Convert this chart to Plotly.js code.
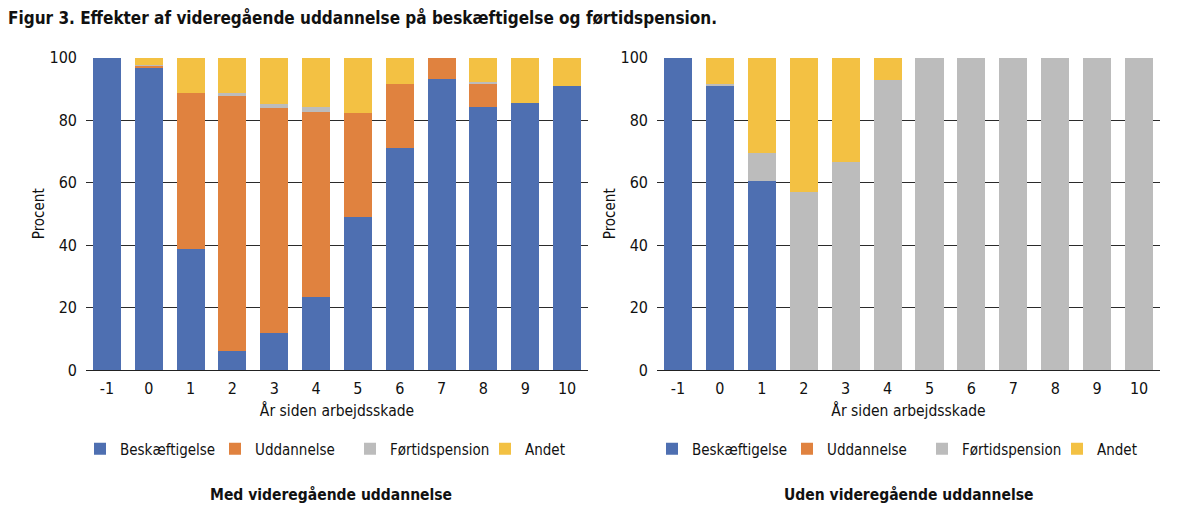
<!DOCTYPE html>
<html>
<head>
<meta charset="utf-8">
<script src="https://cdn.plot.ly/plotly-3.0.1.min.js"></script>
<style>
  html, body { margin: 0; padding: 0; background: #fff; }
  #chart { width: 1200px; height: 522px; }
</style>
</head>
<body>
<div id="chart"></div>
<script>
var years = ['-1', '0', '1', '2', '3', '4', '5', '6', '7', '8', '9', '10'];
var seriesNames = ['Beskæftigelse', 'Uddannelse', 'Førtidspension', 'Andet'];
var colours = ['#4e6fb1', '#e0823f', '#bcbcbc', '#f3c143'];

// med videregående uddannelse
var medBeskaeft = [100, 96.5, 38.7, 6.1, 12.0, 23.3, 48.9, 71.1, 93.2, 84.1, 85.5, 90.8];
var medUdd      = [0, 0.9, 50.1, 81.5, 71.9, 59.3, 33.2, 20.3, 6.8, 7.3, 0, 0];
var medFoert    = [0, 0.2, 0, 1.2, 1.1, 1.6, 0, 0, 0, 0.9, 0, 0];
var medAndet    = [0, 2.4, 11.2, 11.2, 15.0, 15.8, 17.9, 8.6, 0, 7.7, 14.5, 9.2];

// uden videregående uddannelse
var udenBeskaeft = [100, 90.8, 60.4, 0, 0, 0, 0, 0, 0, 0, 0, 0];
var udenUdd      = [0, 0, 0, 0, 0, 0, 0, 0, 0, 0, 0, 0];
var udenFoert    = [0, 0.6, 8.9, 56.9, 66.5, 92.7, 100, 100, 100, 100, 100, 100];
var udenAndet    = [0, 8.6, 30.7, 43.1, 33.5, 7.3, 0, 0, 0, 0, 0, 0];

var font = 'DejaVu Sans Condensed, sans-serif';

function makeTraces(values, xaxis, yaxis, legend) {
  return values.map(function(v, i) {
    return {
      x: years,
      y: v,
      name: seriesNames[i],
      type: 'bar',
      marker: {color: colours[i], line: {width: 0}},
      xaxis: xaxis,
      yaxis: yaxis,
      legend: legend,
      hoverinfo: 'skip'
    };
  });
}

var data = makeTraces([medBeskaeft, medUdd, medFoert, medAndet], 'x', 'y', 'legend')
  .concat(makeTraces([udenBeskaeft, udenUdd, udenFoert, udenAndet], 'x2', 'y2', 'legend2'));

var xax = {
  type: 'category',
  showgrid: false,
  zeroline: false,
  showline: true,
  linecolor: '#222',
  linewidth: 1,
  ticks: '',
  ticklabelstandoff: 4,
  tickfont: {size: 16, color: '#111', family: font},
  title: {text: 'År siden arbejdsskade', font: {size: 15.5, color: '#111', family: font}, standoff: 7}
};
var yax = {
  range: [0, 100],
  tickvals: [0, 20, 40, 60, 80, 100],
  showgrid: true,
  gridcolor: '#2b2b2b',
  gridwidth: 1,
  zeroline: false,
  showline: false,
  ticks: '',
  ticklabelstandoff: 8,
  tickfont: {size: 16, color: '#111', family: font},
  title: {text: 'Procent', font: {size: 15, color: '#111', family: font}, standoff: 1}
};

var legendBase = {
  orientation: 'h',
  traceorder: 'normal',
  xanchor: 'left',
  yanchor: 'middle',
  y: 1 - 449 / 522,
  itemwidth: 30,
  entrywidth: 90,
  entrywidthmode: 'pixels',
  font: {size: 15, color: '#111', family: font},
  bgcolor: 'rgba(0,0,0,0)'
};

var layout = {
  width: 1200,
  height: 522,
  margin: {l: 0, r: 0, t: 0, b: 0, autoexpand: false},
  paper_bgcolor: '#fff',
  plot_bgcolor: '#fff',
  barmode: 'stack',
  bargap: 0.33,
  font: {family: font, color: '#111'},
  xaxis: Object.assign({}, xax, {domain: [86 / 1200, 588 / 1200], anchor: 'y'}),
  yaxis: Object.assign({}, yax, {domain: [1 - 370 / 522, 1 - 57.5 / 522], anchor: 'x'}),
  xaxis2: Object.assign({}, xax, {domain: [657 / 1200, 1160 / 1200], anchor: 'y2'}),
  yaxis2: Object.assign({}, yax, {domain: [1 - 370 / 522, 1 - 57.5 / 522], anchor: 'x2'}),
  legend: Object.assign({}, legendBase, {x: 80 / 1200}),
  legend2: Object.assign({}, legendBase, {x: 652 / 1200}),
  annotations: [
    {text: '<b>Figur 3. Effekter af videregående uddannelse på beskæftigelse og førtidspension.</b>',
     xref: 'paper', yref: 'paper', x: 6 / 1200, y: 1 - 18 / 522, xanchor: 'left', yanchor: 'middle',
     showarrow: false, font: {size: 17, color: '#111', family: font}},
    {text: '<b>Med videregående uddannelse</b>',
     xref: 'paper', yref: 'paper', x: 331 / 1200, y: 1 - 494 / 522, xanchor: 'center', yanchor: 'middle',
     showarrow: false, font: {size: 15.5, color: '#111', family: font}},
    {text: '<b>Uden videregående uddannelse</b>',
     xref: 'paper', yref: 'paper', x: 908 / 1200, y: 1 - 494 / 522, xanchor: 'center', yanchor: 'middle',
     showarrow: false, font: {size: 15.5, color: '#111', family: font}}
  ]
};

Plotly.newPlot('chart', data, layout, {displayModeBar: false, staticPlot: true});
</script>
</body>
</html>
